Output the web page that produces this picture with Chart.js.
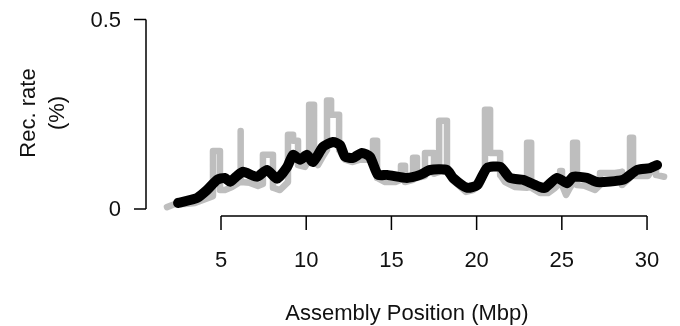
<!DOCTYPE html>
<html>
<head>
<meta charset="utf-8">
<script src="https://cdn.jsdelivr.net/npm/chart.js@4"></script>
<style>
  html, body { margin: 0; padding: 0; background: #fff; }
  #chart { display: block; }
</style>
</head>
<body>
<canvas id="chart" width="680" height="326"></canvas>
<script>
// raw windowed estimates (grey) and smoothed estimate (black), Mbp vs %
const grayPos = [1.83,2.30,2.89,3.47,4.06,4.53,4.53,4.94,4.94,5.23,5.65,6.12,6.12,6.17,6.17,6.70,7.17,7.46,7.46,8.05,8.05,8.46,8.93,8.93,9.23,9.23,9.52,9.52,9.93,10.17,10.17,10.46,10.46,10.69,10.93,11.22,11.22,11.46,11.46,11.93,11.93,12.28,12.69,13.16,13.63,13.92,13.92,14.16,14.16,14.63,15.21,15.56,15.56,15.80,15.80,16.27,16.27,16.50,16.50,16.97,16.97,17.50,17.50,17.80,17.80,18.26,18.26,18.56,18.97,19.38,19.79,20.20,20.49,20.49,20.79,20.79,21.38,21.38,21.67,22.26,22.96,22.96,23.20,23.20,23.72,24.19,24.61,24.90,24.90,25.01,25.01,25.25,25.48,25.66,25.66,25.89,25.89,26.36,26.95,27.24,27.24,28.12,28.53,28.53,29.00,29.00,29.18,29.18,29.59,30.06,30.30,30.53,30.53,31.00];
const grayRate = [0.005,0.013,0.013,0.016,0.026,0.034,0.153,0.153,0.050,0.050,0.058,0.071,0.206,0.206,0.071,0.069,0.061,0.066,0.143,0.143,0.056,0.050,0.071,0.196,0.196,0.180,0.180,0.116,0.111,0.130,0.275,0.275,0.130,0.116,0.135,0.156,0.286,0.286,0.249,0.249,0.156,0.130,0.124,0.130,0.130,0.135,0.180,0.180,0.082,0.071,0.071,0.077,0.114,0.114,0.071,0.077,0.135,0.135,0.082,0.087,0.148,0.148,0.093,0.098,0.233,0.233,0.098,0.077,0.061,0.045,0.050,0.063,0.095,0.262,0.262,0.148,0.148,0.090,0.071,0.058,0.056,0.175,0.175,0.056,0.042,0.042,0.056,0.069,0.100,0.100,0.063,0.037,0.056,0.069,0.175,0.175,0.063,0.061,0.050,0.063,0.095,0.095,0.098,0.063,0.082,0.188,0.188,0.087,0.087,0.087,0.103,0.103,0.090,0.085];

const blackPos = [2.48,3.59,4.18,4.77,5.23,5.53,5.88,6.29,7.11,7.70,8.29,8.88,9.23,9.64,10.05,10.40,10.99,11.57,11.98,12.28,12.75,13.27,13.74,14.21,14.74,15.91,16.68,17.27,18.26,18.62,19.44,20.03,20.61,21.38,21.96,22.72,23.72,24.01,24.72,25.31,25.66,26.48,27.07,28.59,29.41,30.18,30.59];
const blackRate = [0.016,0.029,0.050,0.077,0.082,0.072,0.085,0.098,0.085,0.103,0.080,0.111,0.143,0.130,0.143,0.124,0.164,0.177,0.169,0.138,0.135,0.148,0.138,0.090,0.090,0.082,0.090,0.103,0.103,0.082,0.056,0.063,0.108,0.111,0.082,0.077,0.058,0.056,0.082,0.068,0.085,0.082,0.071,0.077,0.103,0.108,0.116];

const xTicks = [5, 10, 15, 20, 25, 30];
const yTicks = [0, 0.5];
const yTickLabels = ['0', '0.5'];
const xTitle = 'Assembly Position (Mbp)';
const yTitle = ['Rec. rate', '(%)'];

const FONT = '22px "Liberation Sans", Arial, sans-serif';

const rAxes = {
  id: 'rAxes',
  afterDraw(chart) {
    const { ctx, scales: { x, y } } = chart;
    ctx.save();
    ctx.strokeStyle = '#000';
    ctx.fillStyle = '#111';
    ctx.lineWidth = 1.5;
    ctx.font = FONT;

    // x axis
    const ax = 216;
    const x0 = x.getPixelForValue(xTicks[0]);
    const x1 = x.getPixelForValue(xTicks[xTicks.length - 1]);
    ctx.beginPath();
    ctx.moveTo(x0, ax); ctx.lineTo(x1, ax);
    xTicks.forEach(t => {
      const px = x.getPixelForValue(t);
      ctx.moveTo(px, ax); ctx.lineTo(px, ax + 14);
    });
    ctx.stroke();
    ctx.textAlign = 'center';
    ctx.textBaseline = 'alphabetic';
    xTicks.forEach(t => ctx.fillText(String(t), x.getPixelForValue(t), 267));
    ctx.fillText(xTitle, 407, 320);

    // y axis
    const ay = 146;
    const y0 = y.getPixelForValue(yTicks[0]);
    const y1 = y.getPixelForValue(yTicks[yTicks.length - 1]);
    ctx.beginPath();
    ctx.moveTo(ay, y0); ctx.lineTo(ay, y1);
    yTicks.forEach(t => {
      const py = y.getPixelForValue(t);
      ctx.moveTo(ay, py); ctx.lineTo(ay - 12, py);
    });
    ctx.stroke();
    ctx.textAlign = 'right';
    ctx.textBaseline = 'middle';
    yTicks.forEach((t, i) => ctx.fillText(yTickLabels[i], 121, y.getPixelForValue(t) + 1));

    // y title, two lines rotated
    ctx.textAlign = 'center';
    ctx.textBaseline = 'alphabetic';
    ctx.translate(0, 113);
    ctx.rotate(-Math.PI / 2);
    ctx.fillText(yTitle[0], 0, 35);
    ctx.fillText(yTitle[1], 0, 64);
    ctx.restore();
  }
};

new Chart(document.getElementById('chart'), {
  type: 'scatter',
  data: {
    datasets: [
      {
        data: grayPos.map((p, i) => ({ x: p, y: grayRate[i] })),
        showLine: true,
        borderColor: '#bebebe',
        borderWidth: 6.5,
        borderCapStyle: 'round',
        borderJoinStyle: 'round',
        pointRadius: 0,
        tension: 0,
        clip: false,
        order: 2
      },
      {
        data: blackPos.map((p, i) => ({ x: p, y: blackRate[i] })),
        showLine: true,
        borderColor: '#000000',
        borderWidth: 10,
        borderCapStyle: 'round',
        borderJoinStyle: 'round',
        pointRadius: 0,
        tension: 0.2,
        clip: false,
        order: 1
      }
    ]
  },
  options: {
    responsive: false,
    devicePixelRatio: 1,
    animation: false,
    layout: { padding: { left: 152.84, right: 7.4, top: 11.92, bottom: 113.21 } },
    scales: {
      x: { type: 'linear', min: 1, max: 31.5, display: false },
      y: { type: 'linear', min: -0.01, max: 0.52, display: false }
    },
    plugins: { legend: { display: false }, tooltip: { enabled: false } }
  },
  plugins: [rAxes]
});
</script>
</body>
</html>
